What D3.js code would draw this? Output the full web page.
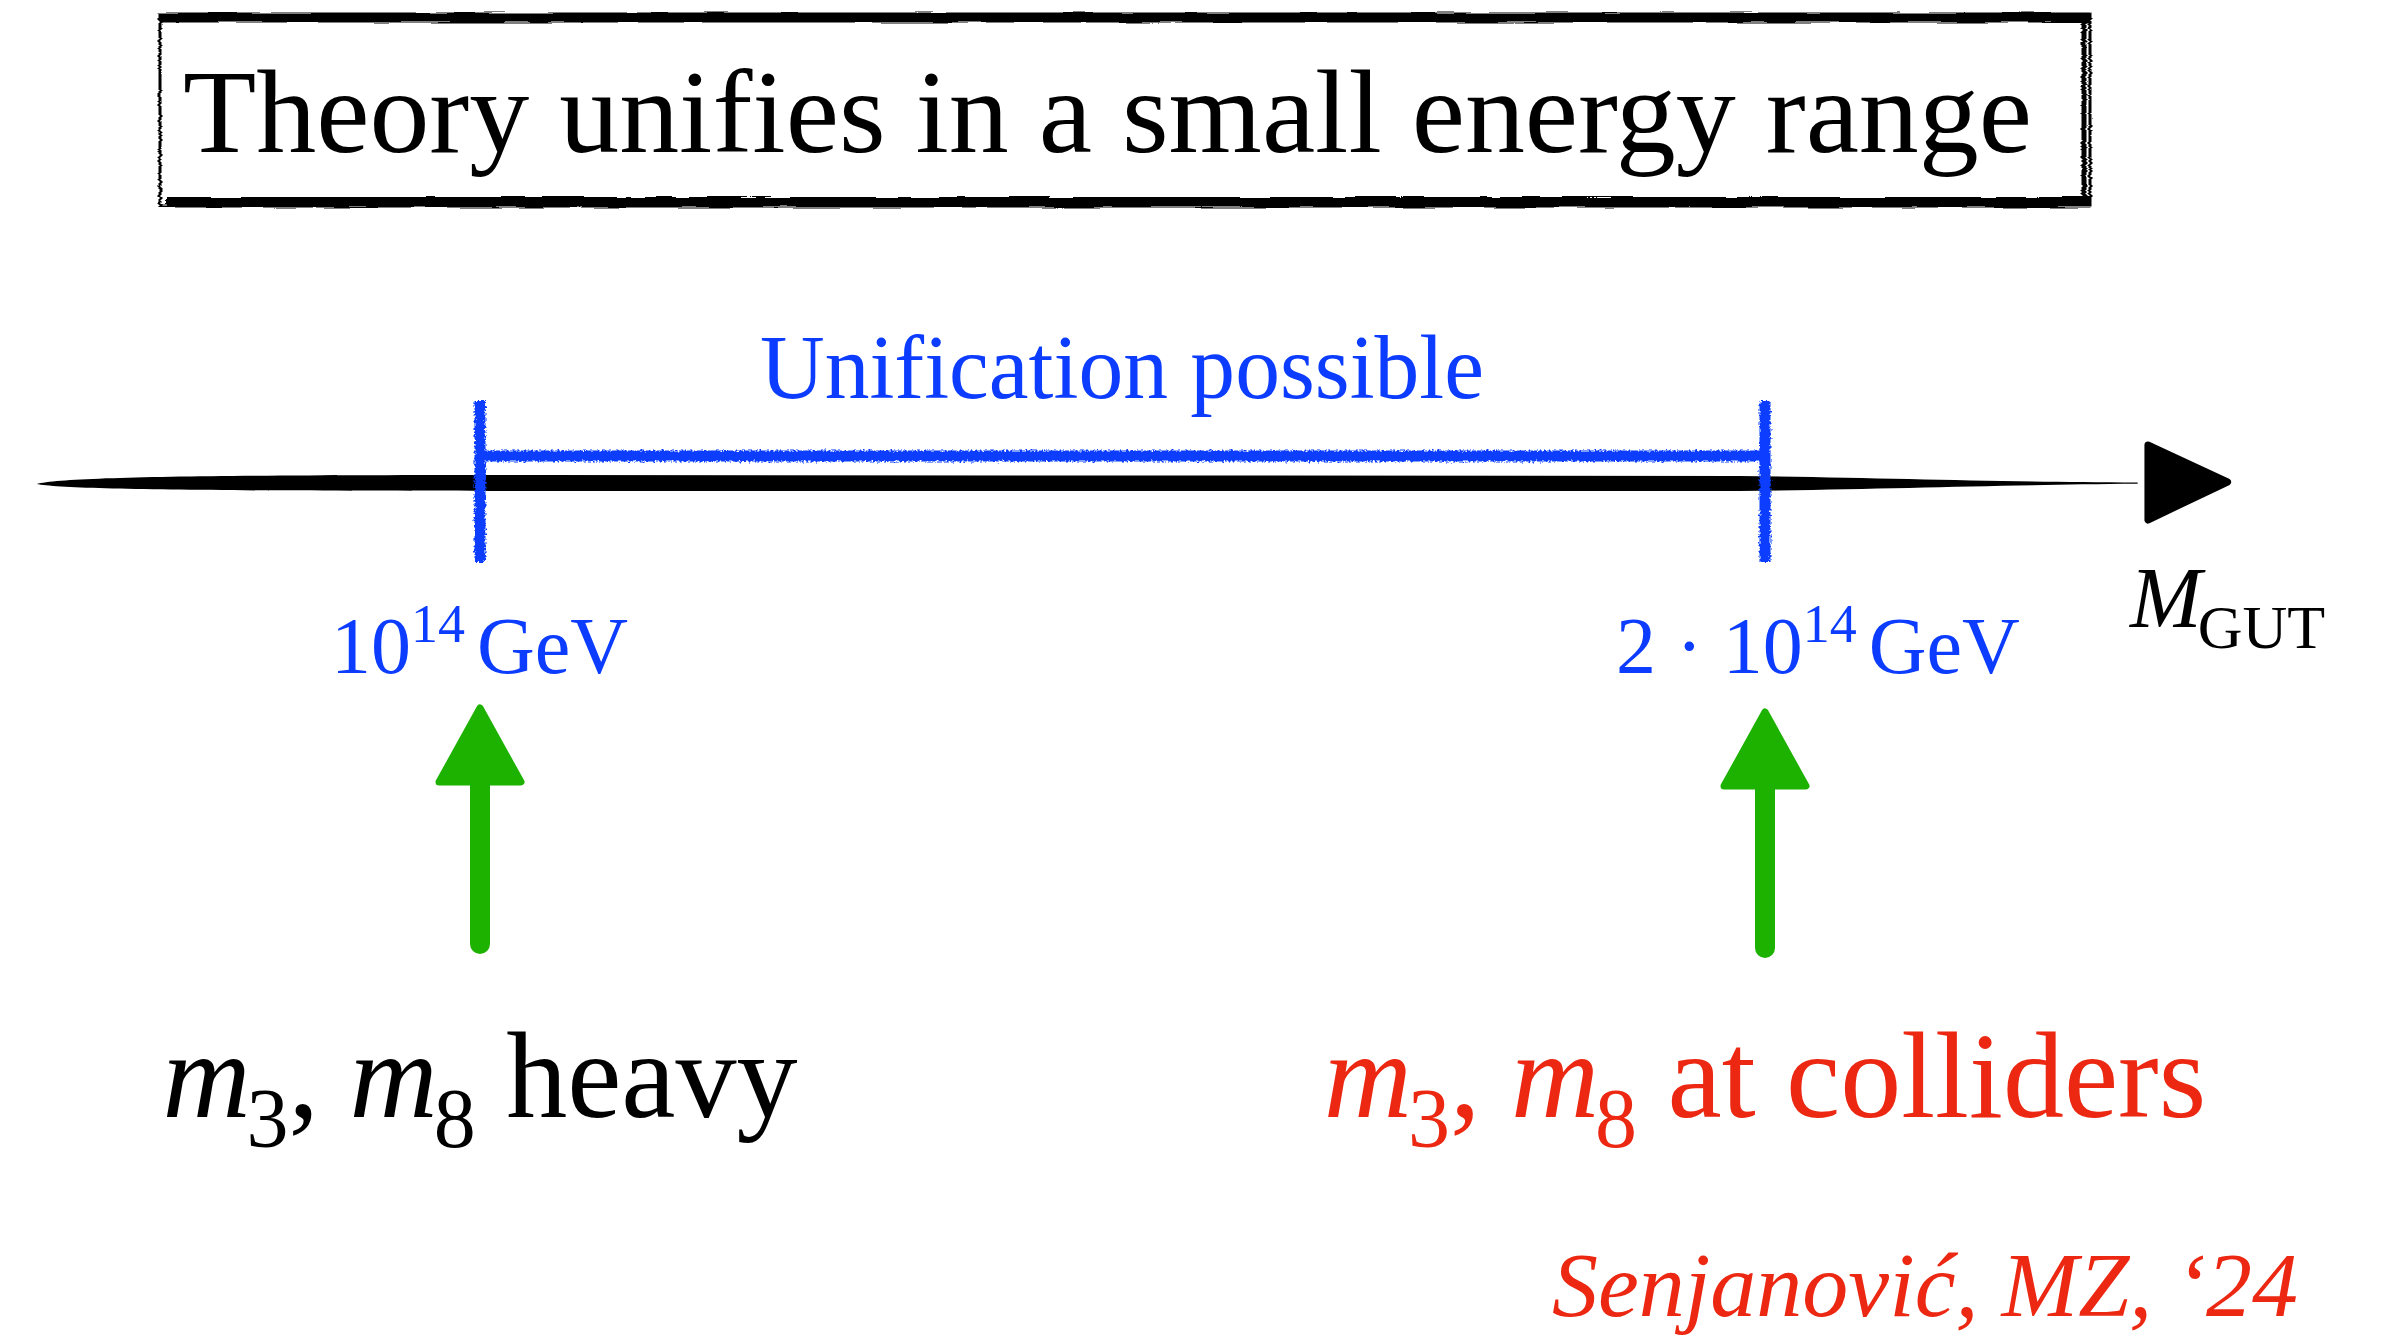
<!DOCTYPE html>
<html>
<head>
<meta charset="utf-8">
<script src="https://cdn.jsdelivr.net/npm/d3@7"></script>
<style>
  html, body { margin: 0; padding: 0; background: #fff; }
  svg { display: block; }
  text { font-family: "Liberation Serif", "Times New Roman", serif; }
</style>
</head>
<body>
<svg id="chart" width="2382" height="1340"></svg>
<script>
// values
const titleText = "Theory unifies in a small energy range";
const rangeLabel = "Unification possible";
const tickValues = [1, 2]; // M_GUT in units of 10^14 GeV
const tickPrefix = ["", "2 · "];
const tickBase = ["10", "10"];
const tickExponent = ["14", "14"];
const tickUnit = ["GeV", "GeV"];
const scenarioValues = [1, 2];
const scenarioText = ["heavy", "at colliders"];
const massIndices = ["3", "8"];
const axisLabel = ["M", "GUT"];
const citation = "Senjanovi\u0107, MZ, \u201824";

const BLUE = "#0b3cff";
const GREEN = "#1db100";
const RED = "#ec2712";

const svg = d3.select("#chart");

// tick at 1e14 sits at x=480, tick at 2e14 at x=1765
const xScale = d3.scaleLinear().domain([1, 2]).range([480, 1765]);
const axisY = 483;

const defs = svg.append("defs");
const rough = defs.append("filter").attr("id", "rough")
  .attr("x", "-5%").attr("y", "-20%").attr("width", "110%").attr("height", "140%");
rough.append("feTurbulence").attr("type", "fractalNoise")
  .attr("baseFrequency", "0.45").attr("numOctaves", 2).attr("seed", 4).attr("result", "n");
rough.append("feDisplacementMap").attr("in", "SourceGraphic").attr("in2", "n")
  .attr("scale", 6).attr("xChannelSelector", "R").attr("yChannelSelector", "G");

const roughBox = defs.append("filter").attr("id", "roughBox")
  .attr("x", "-2%").attr("y", "-10%").attr("width", "104%").attr("height", "120%");
roughBox.append("feTurbulence").attr("type", "fractalNoise")
  .attr("baseFrequency", "0.02 0.4").attr("numOctaves", 2).attr("seed", 9).attr("result", "n");
roughBox.append("feDisplacementMap").attr("in", "SourceGraphic").attr("in2", "n")
  .attr("scale", 4).attr("xChannelSelector", "R").attr("yChannelSelector", "G");

// ---- title box ----
const box = { x: 160, y: 14, w: 1930, h: 192 };
const boxG = svg.append("g").attr("filter", "url(#roughBox)");
boxG.append("rect")
  .attr("x", box.x).attr("y", box.y).attr("width", box.w).attr("height", box.h)
  .attr("fill", "none").attr("stroke", "#000").attr("stroke-width", 3);
boxG.append("line")
  .attr("x1", box.x).attr("x2", box.x + box.w).attr("y1", box.y + 4).attr("y2", box.y + 4)
  .attr("stroke", "#000").attr("stroke-width", 9);
boxG.append("line")
  .attr("x1", box.x + 6).attr("x2", box.x + box.w).attr("y1", box.y + box.h - 5).attr("y2", box.y + box.h - 5)
  .attr("stroke", "#000").attr("stroke-width", 8);
boxG.append("line")
  .attr("x1", box.x + box.w - 6).attr("x2", box.x + box.w - 6).attr("y1", box.y).attr("y2", box.y + box.h)
  .attr("stroke", "#000").attr("stroke-width", 5);

svg.append("text")
  .attr("x", 183).attr("y", 152)
  .attr("font-size", 118)
  .attr("textLength", 1849).attr("lengthAdjust", "spacingAndGlyphs")
  .attr("fill", "#000")
  .text(titleText);

// ---- M_GUT axis ----
const xLeft = xScale(0.655);
const xTaper = xScale(1.98);
const xThin = xScale(2.29);
const axisPath = d3.path();
axisPath.moveTo(xLeft, axisY + 1);
axisPath.bezierCurveTo(xLeft + 30, axisY - 7, xLeft + 200, axisY - 8, xLeft + 500, axisY - 8);
axisPath.lineTo(xTaper, axisY - 7);
axisPath.bezierCurveTo(xTaper + 150, axisY - 5, xThin - 150, axisY - 1, xThin, axisY - 0.5);
axisPath.lineTo(xThin, axisY + 0.8);
axisPath.bezierCurveTo(xThin - 150, axisY + 2, xTaper + 150, axisY + 6, xTaper, axisY + 8);
axisPath.lineTo(xLeft + 500, axisY + 8);
axisPath.bezierCurveTo(xLeft + 200, axisY + 8, xLeft + 30, axisY + 7, xLeft, axisY + 1);
axisPath.closePath();
svg.append("path").attr("d", axisPath.toString()).attr("fill", "#000");

const headX = xScale(2.298);
const headTip = xScale(2.36);
svg.append("path")
  .attr("d", `M${headX},${axisY - 38} L${headTip},${axisY - 1} L${headX},${axisY + 37} Z`)
  .attr("fill", "#000").attr("stroke", "#000")
  .attr("stroke-width", 7).attr("stroke-linejoin", "round");

const axisText = svg.append("text")
  .attr("x", 2130).attr("y", 627).attr("fill", "#000");
axisText.append("tspan").attr("font-size", 86).attr("font-style", "italic").text(axisLabel[0]);
axisText.append("tspan").attr("font-size", 62).attr("dy", 21).attr("dx", -4).text(axisLabel[1]);

// ---- unification range bracket ----
const bracketY = 456;
const bracketG = svg.append("g").attr("filter", "url(#rough)");
bracketG.append("line")
  .attr("x1", xScale(tickValues[0])).attr("x2", xScale(tickValues[1]))
  .attr("y1", bracketY).attr("y2", bracketY)
  .attr("stroke", BLUE).attr("stroke-width", 11);
bracketG.selectAll("line.tick")
  .data(tickValues)
  .join("line")
  .attr("class", "tick")
  .attr("x1", (d) => xScale(d)).attr("x2", (d) => xScale(d))
  .attr("y1", 401).attr("y2", 562)
  .attr("stroke", BLUE).attr("stroke-width", 11);

svg.append("text")
  .attr("x", 760).attr("y", 398)
  .attr("font-size", 90).attr("fill", BLUE)
  .attr("textLength", 724).attr("lengthAdjust", "spacingAndGlyphs")
  .text(rangeLabel);

// tick labels
const tickLabels = svg.selectAll("text.ticklabel")
  .data(tickValues)
  .join("text")
  .attr("class", "ticklabel")
  .attr("x", (d) => xScale(d) - 149)
  .attr("y", 673)
  .attr("fill", BLUE)
  .attr("font-size", 80);
tickLabels.append("tspan").text((d, i) => tickPrefix[i] + tickBase[i]);
tickLabels.append("tspan").attr("font-size", 54).attr("dy", -31).text((d, i) => tickExponent[i]);
tickLabels.append("tspan").attr("dy", 31).attr("dx", 12).text((d, i) => tickUnit[i]);

// ---- green arrows ----
const arrows = svg.selectAll("g.uparrow")
  .data(scenarioValues)
  .join("g")
  .attr("class", "uparrow")
  .attr("transform", (d, i) => `translate(${xScale(d)},${i === 0 ? 0 : 4})`);
arrows.append("line")
  .attr("x1", 0).attr("x2", 0).attr("y1", 944).attr("y2", 780)
  .attr("stroke", GREEN).attr("stroke-width", 20).attr("stroke-linecap", "round");
arrows.append("path")
  .attr("d", "M0,708 L41,782 L-41,782 Z")
  .attr("fill", GREEN).attr("stroke", GREEN)
  .attr("stroke-width", 7).attr("stroke-linejoin", "round");

// ---- scenario labels ----
const scenarioLabels = svg.selectAll("text.scenario")
  .data(scenarioValues)
  .join("text")
  .attr("class", "scenario")
  .attr("x", (d) => xScale(d))
  .attr("y", 1117)
  .attr("text-anchor", "middle")
  .attr("font-size", 122)
  .attr("fill", (d, i) => (i === 0 ? "#000" : RED));
scenarioLabels.each(function (d, i) {
  const t = d3.select(this);
  massIndices.forEach((idx, k) => {
    t.append("tspan").attr("font-style", "italic").text("m");
    t.append("tspan").attr("font-size", 84).attr("dy", 30).attr("dx", -4).text(idx);
    t.append("tspan").attr("dy", -30).text(k === 0 ? ", " : " ");
  });
  t.append("tspan").text(scenarioText[i]);
});

// ---- citation ----
svg.append("text")
  .attr("x", 2298).attr("y", 1316)
  .attr("text-anchor", "end")
  .attr("font-size", 92).attr("font-style", "italic")
  .attr("fill", RED)
  .text(citation);
</script>
</body>
</html>
